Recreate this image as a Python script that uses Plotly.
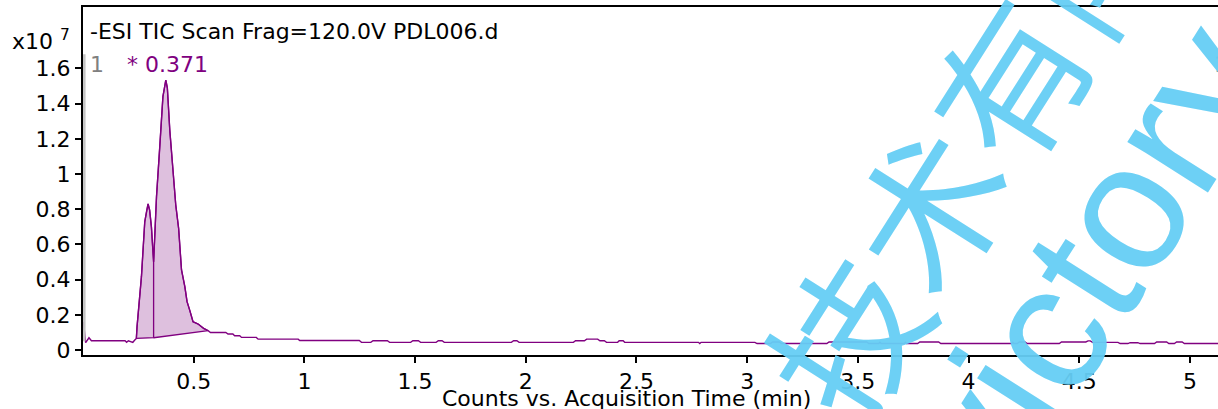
import plotly.graph_objects as go

# ---------------- data (counts in units of 1e7) ----------------
time_min = [
    0.002, 0.012, 0.027, 0.038, 0.190, 0.197, 0.205, 0.215, 0.225, 0.234,
    0.241, 0.244, 0.264, 0.279, 0.288, 0.294, 0.301, 0.309, 0.319, 0.332,
    0.347, 0.361, 0.374, 0.381, 0.392, 0.404, 0.419, 0.432, 0.445, 0.460,
    0.470, 0.482, 0.497, 0.520, 0.545, 0.565, 0.576, 0.645, 0.655, 0.677,
    0.685, 0.708, 0.716, 0.783, 0.791, 0.972, 0.979, 1.248, 1.258, 1.300,
    1.310, 1.375, 1.385, 1.480, 1.490, 1.515, 1.525, 1.595, 1.605, 1.622,
    1.632, 1.935, 1.945, 1.960, 1.970, 2.215, 2.225, 2.265, 2.275, 2.325,
    2.335, 2.355, 2.365, 2.415, 2.422, 2.440, 2.447, 2.780, 2.786, 2.792,
    3.035, 3.045, 3.105, 3.115, 3.145, 3.155, 3.360, 3.370, 3.540, 3.550,
    3.595, 3.600, 3.605, 3.710, 3.715, 3.720, 3.770, 3.780, 3.865, 3.875,
    4.195, 4.200, 4.205, 4.220, 4.230, 4.255, 4.265, 4.410, 4.420, 4.530,
    4.540, 4.550, 4.560, 4.675, 4.685, 4.720, 4.730, 4.765, 4.775, 4.840,
    4.850, 4.895, 4.905, 4.930, 4.940, 4.965, 4.975, 5.130,
]
counts_e7 = [
    0.160, 0.042, 0.070, 0.053, 0.053, 0.044, 0.053, 0.050, 0.044, 0.057,
    0.066, 0.132, 0.417, 0.729, 0.795, 0.830, 0.795, 0.700, 0.500, 0.871,
    1.155, 1.440, 1.534, 1.490, 1.250, 1.040, 0.824, 0.691, 0.455, 0.360,
    0.275, 0.227, 0.161, 0.148, 0.123, 0.110, 0.100, 0.100, 0.091, 0.091,
    0.081, 0.081, 0.072, 0.072, 0.062, 0.062, 0.054, 0.054, 0.044, 0.044,
    0.053, 0.053, 0.044, 0.044, 0.053, 0.053, 0.044, 0.044, 0.053, 0.053,
    0.044, 0.044, 0.053, 0.053, 0.044, 0.044, 0.053, 0.053, 0.062, 0.062,
    0.053, 0.053, 0.044, 0.044, 0.053, 0.053, 0.044, 0.044, 0.037, 0.044,
    0.044, 0.037, 0.037, 0.046, 0.046, 0.037, 0.037, 0.046, 0.046, 0.037,
    0.037, 0.044, 0.037, 0.037, 0.044, 0.037, 0.037, 0.046, 0.046, 0.037,
    0.037, 0.044, 0.037, 0.037, 0.046, 0.046, 0.037, 0.037, 0.046, 0.046,
    0.052, 0.052, 0.044, 0.044, 0.037, 0.037, 0.042, 0.042, 0.037, 0.037,
    0.046, 0.046, 0.037, 0.037, 0.046, 0.046, 0.037, 0.037,
]

# integrated peaks: start, split, end times and baseline heights there
peak_times = [0.241, 0.319, 0.565]
peak_base = [0.066, 0.070, 0.110]
peak_label = "* 0.371"

x_ticks = [0.5, 1, 1.5, 2, 2.5, 3, 3.5, 4, 4.5, 5]
x_ticklabels = ["0.5", "1", "1.5", "2", "2.5", "3", "3.5", "4", "4.5", "5"]
y_ticks = [0, 0.2, 0.4, 0.6, 0.8, 1.0, 1.2, 1.4, 1.6]
y_ticklabels = ["0", "0.2", "0.4", "0.6", "0.8", "1", "1.2", "1.4", "1.6"]

title_text = "-ESI TIC Scan Frag=120.0V PDL006.d"
x_title = "Counts vs. Acquisition Time (min)"
watermark_cn = "技术有限"
watermark_en = "victory"

# ---------------- styling ----------------
PURPLE = "#800080"
FILL = "rgb(222,192,222)"
FONT = "DejaVu Sans"
FS = 22
WM = "rgb(102,206,245)"

fig = go.Figure()

# peak fill polygons built from the trace data
t0, t1, t2 = peak_times
b0, b1, b2 = peak_base
seg1 = [(t, v) for t, v in zip(time_min, counts_e7) if t0 <= t <= t1]
seg2 = [(t, v) for t, v in zip(time_min, counts_e7) if t1 <= t <= t2]
p1x = [p[0] for p in seg1] + [t1, t0, t0]
p1y = [p[1] for p in seg1] + [b1, b0, seg1[0][1]]
p2x = [t1] + [p[0] for p in seg2] + [t2, t1]
p2y = [b1] + [p[1] for p in seg2] + [b2, b1]
for px, py in ((p1x, p1y), (p2x, p2y)):
    fig.add_trace(go.Scatter(x=px, y=py, mode="lines", fill="toself",
                             fillcolor=FILL, line=dict(color=PURPLE, width=1.3),
                             hoverinfo="skip", showlegend=False))

fig.add_trace(go.Scatter(x=time_min, y=counts_e7, mode="lines",
                         line=dict(color=PURPLE, width=1.4), showlegend=False))

# gray marker line at the left
fig.add_shape(type="line", xref="x", yref="y", x0=0.006, x1=0.006, y0=0.05, y1=1.68,
              line=dict(color="#c4c4c4", width=2.5))

fig.update_layout(
    width=1218, height=409,
    margin=dict(l=83, r=0, t=7, b=54),
    paper_bgcolor="white", plot_bgcolor="white",
    font=dict(family=FONT, size=FS, color="black"),
    xaxis=dict(range=[0, 5.127], tickvals=x_ticks, ticktext=x_ticklabels,
               showgrid=False, zeroline=False, showline=True, linecolor="black",
               linewidth=2, mirror=True, ticks="outside", ticklen=6, tickwidth=1.5,
               tickcolor="black", tickfont=dict(family=FONT, size=FS)),
    yaxis=dict(range=[-0.028, 1.949], tickvals=y_ticks, ticktext=y_ticklabels,
               showgrid=False, zeroline=False, showline=True, linecolor="black",
               linewidth=2, ticks="outside", ticklen=6, tickwidth=1.5,
               tickcolor="black", tickfont=dict(family=FONT, size=FS)),
)

ann = []
ann.append(dict(text=title_text, x=0.0044, y=0.931, xref="paper", yref="paper",
                xanchor="left", yanchor="middle", showarrow=False,
                font=dict(family=FONT, size=FS, color="black")))
ann.append(dict(text="x10 <sup>7</sup>", x=-0.0643, y=0.905, xref="paper", yref="paper",
                xanchor="left", yanchor="middle", showarrow=False,
                font=dict(family=FONT, size=FS, color="black")))
ann.append(dict(text="1", x=0.0044, y=0.836, xref="paper", yref="paper",
                xanchor="left", yanchor="middle", showarrow=False,
                font=dict(family=FONT, size=FS, color="#808080")))
ann.append(dict(text=peak_label, x=0.037, y=0.836, xref="paper", yref="paper",
                xanchor="left", yanchor="middle", showarrow=False,
                font=dict(family=FONT, size=FS, color=PURPLE)))
ann.append(dict(text="1", x=0.9947, y=0.836, xref="paper", yref="paper",
                xanchor="left", yanchor="middle", showarrow=False,
                font=dict(family=FONT, size=FS, color="#808080")))
ann.append(dict(text=x_title, x=0.479, y=-0.125, xref="paper", yref="paper",
                xanchor="center", yanchor="middle", showarrow=False,
                font=dict(family=FONT, size=FS, color="black")))
# watermark
ann.append(dict(text=watermark_cn, x=0.7766, y=0.613, xref="paper", yref="paper",
                xanchor="center", yanchor="middle", showarrow=False, textangle=-57.6,
                font=dict(family="Noto Sans CJK SC", size=152, color=WM),
                opacity=0.95))
ann.append(dict(text=watermark_en, x=0.8864, y=0.267, xref="paper", yref="paper",
                xanchor="center", yanchor="middle", showarrow=False, textangle=-57.6,
                font=dict(family="Liberation Sans", size=180, color=WM), opacity=0.95))
fig.update_layout(annotations=ann)

fig.write_html("out.html", config={"displayModeBar": False},
               post_script="document.body.style.margin='0';document.body.style.overflow='hidden';")
